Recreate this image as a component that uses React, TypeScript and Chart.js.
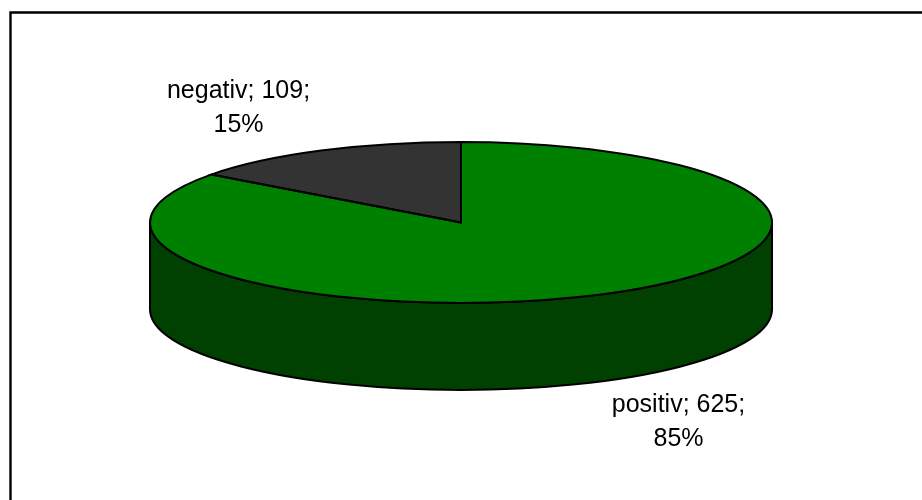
import React, { useEffect, useRef } from "react";
import { Chart, registerables } from "chart.js";

Chart.register(...registerables);

const categories = ["positiv", "negativ"];
const counts = [625, 109];
const percents = [85, 15];
const sliceColors = ["#008000", "#333333"];
const wallColors = ["#004000", "#1a1a1a"];

// Ellipse used for the top face of the disc, and the height of its wall.
const RX = 311;
const RY = 80.5;
const DEPTH = 87;
const LINE = 2;

const LABEL_FONT = '25px "Liberation Sans", Arial, sans-serif';
const labelAnchors = [
  { x: 678.5, y: 405 },
  { x: 238.5, y: 91.5 },
];
const LABEL_LEADING = 34;

const tiltPlugin = {
  id: "tiltedDisc",
  beforeDraw(chart: any) {
    // The frame is open on the right and at the bottom.
    const { ctx, width, height } = chart;
    ctx.save();
    ctx.strokeStyle = "#000000";
    ctx.lineWidth = 2.4;
    ctx.beginPath();
    ctx.moveTo(10.5, height);
    ctx.lineTo(10.5, 12.5);
    ctx.lineTo(width, 12.5);
    ctx.stroke();
    ctx.restore();
  },
  beforeDatasetsDraw(chart: any) {
    const { ctx } = chart;
    const arcs = chart.getDatasetMeta(0).data;
    const cx = arcs[0].x;
    const cy = arcs[0].y;

    // Wall: only the front half of the rim (canvas angles 0..PI) is visible.
    arcs.forEach((arc: any, i: number) => {
      const from = Math.max(arc.startAngle, 0);
      const to = Math.min(arc.endAngle, Math.PI);
      if (to <= from) return;
      ctx.save();
      ctx.beginPath();
      ctx.ellipse(cx, cy, RX, RY, 0, from, to);
      ctx.ellipse(cx, cy + DEPTH, RX, RY, 0, to, from, true);
      ctx.closePath();
      ctx.fillStyle = wallColors[i];
      ctx.fill();
      ctx.strokeStyle = "#000000";
      ctx.lineWidth = LINE;
      ctx.stroke();
      ctx.restore();
    });

    // Top face: the arcs draw themselves inside a squashed coordinate system.
    const r = arcs[0].outerRadius;
    ctx.save();
    ctx.translate(cx, cy);
    ctx.scale(RX / r, RY / r);
    ctx.translate(-cx, -cy);
  },
  afterDatasetsDraw(chart: any) {
    const { ctx } = chart;
    ctx.restore();

    const arcs = chart.getDatasetMeta(0).data;
    const cx = arcs[0].x;
    const cy = arcs[0].y;

    // Outlines go on after the transform is gone so their width stays even.
    ctx.save();
    ctx.strokeStyle = "#000000";
    ctx.lineWidth = LINE;
    ctx.lineJoin = "miter";
    arcs.forEach((arc: any) => {
      ctx.beginPath();
      ctx.moveTo(cx, cy);
      ctx.ellipse(cx, cy, RX, RY, 0, arc.startAngle, arc.endAngle);
      ctx.closePath();
      ctx.stroke();
    });
    ctx.restore();

    // Data labels: "name; value;" over "percent%".
    ctx.save();
    ctx.font = LABEL_FONT;
    ctx.fillStyle = "#000000";
    ctx.textAlign = "center";
    ctx.textBaseline = "middle";
    categories.forEach((name, i) => {
      const { x, y } = labelAnchors[i];
      ctx.fillText(`${name}; ${counts[i]};`, x, y);
      ctx.fillText(`${percents[i]}%`, x, y + LABEL_LEADING);
    });
    ctx.restore();
  },
};

export default function App() {
  const canvasRef = useRef<HTMLCanvasElement | null>(null);

  useEffect(() => {
    const chart = new Chart(canvasRef.current as HTMLCanvasElement, {
      type: "pie",
      data: {
        labels: categories,
        datasets: [
          {
            data: counts,
            backgroundColor: sliceColors,
            borderWidth: 0,
          },
        ],
      },
      options: {
        responsive: false,
        animation: false,
        layout: { padding: { top: 132, bottom: 187, left: 0, right: 0 } },
        plugins: { legend: { display: false }, tooltip: { enabled: false } },
      },
      plugins: [tiltPlugin],
    });
    return () => chart.destroy();
  }, []);

  return (
    <div
      style={{
        position: "fixed",
        left: 0,
        top: 0,
        width: 922,
        height: 500,
        background: "#ffffff",
      }}
    >
      <canvas ref={canvasRef} width={922} height={500} style={{ display: "block" }} />
    </div>
  );
}
